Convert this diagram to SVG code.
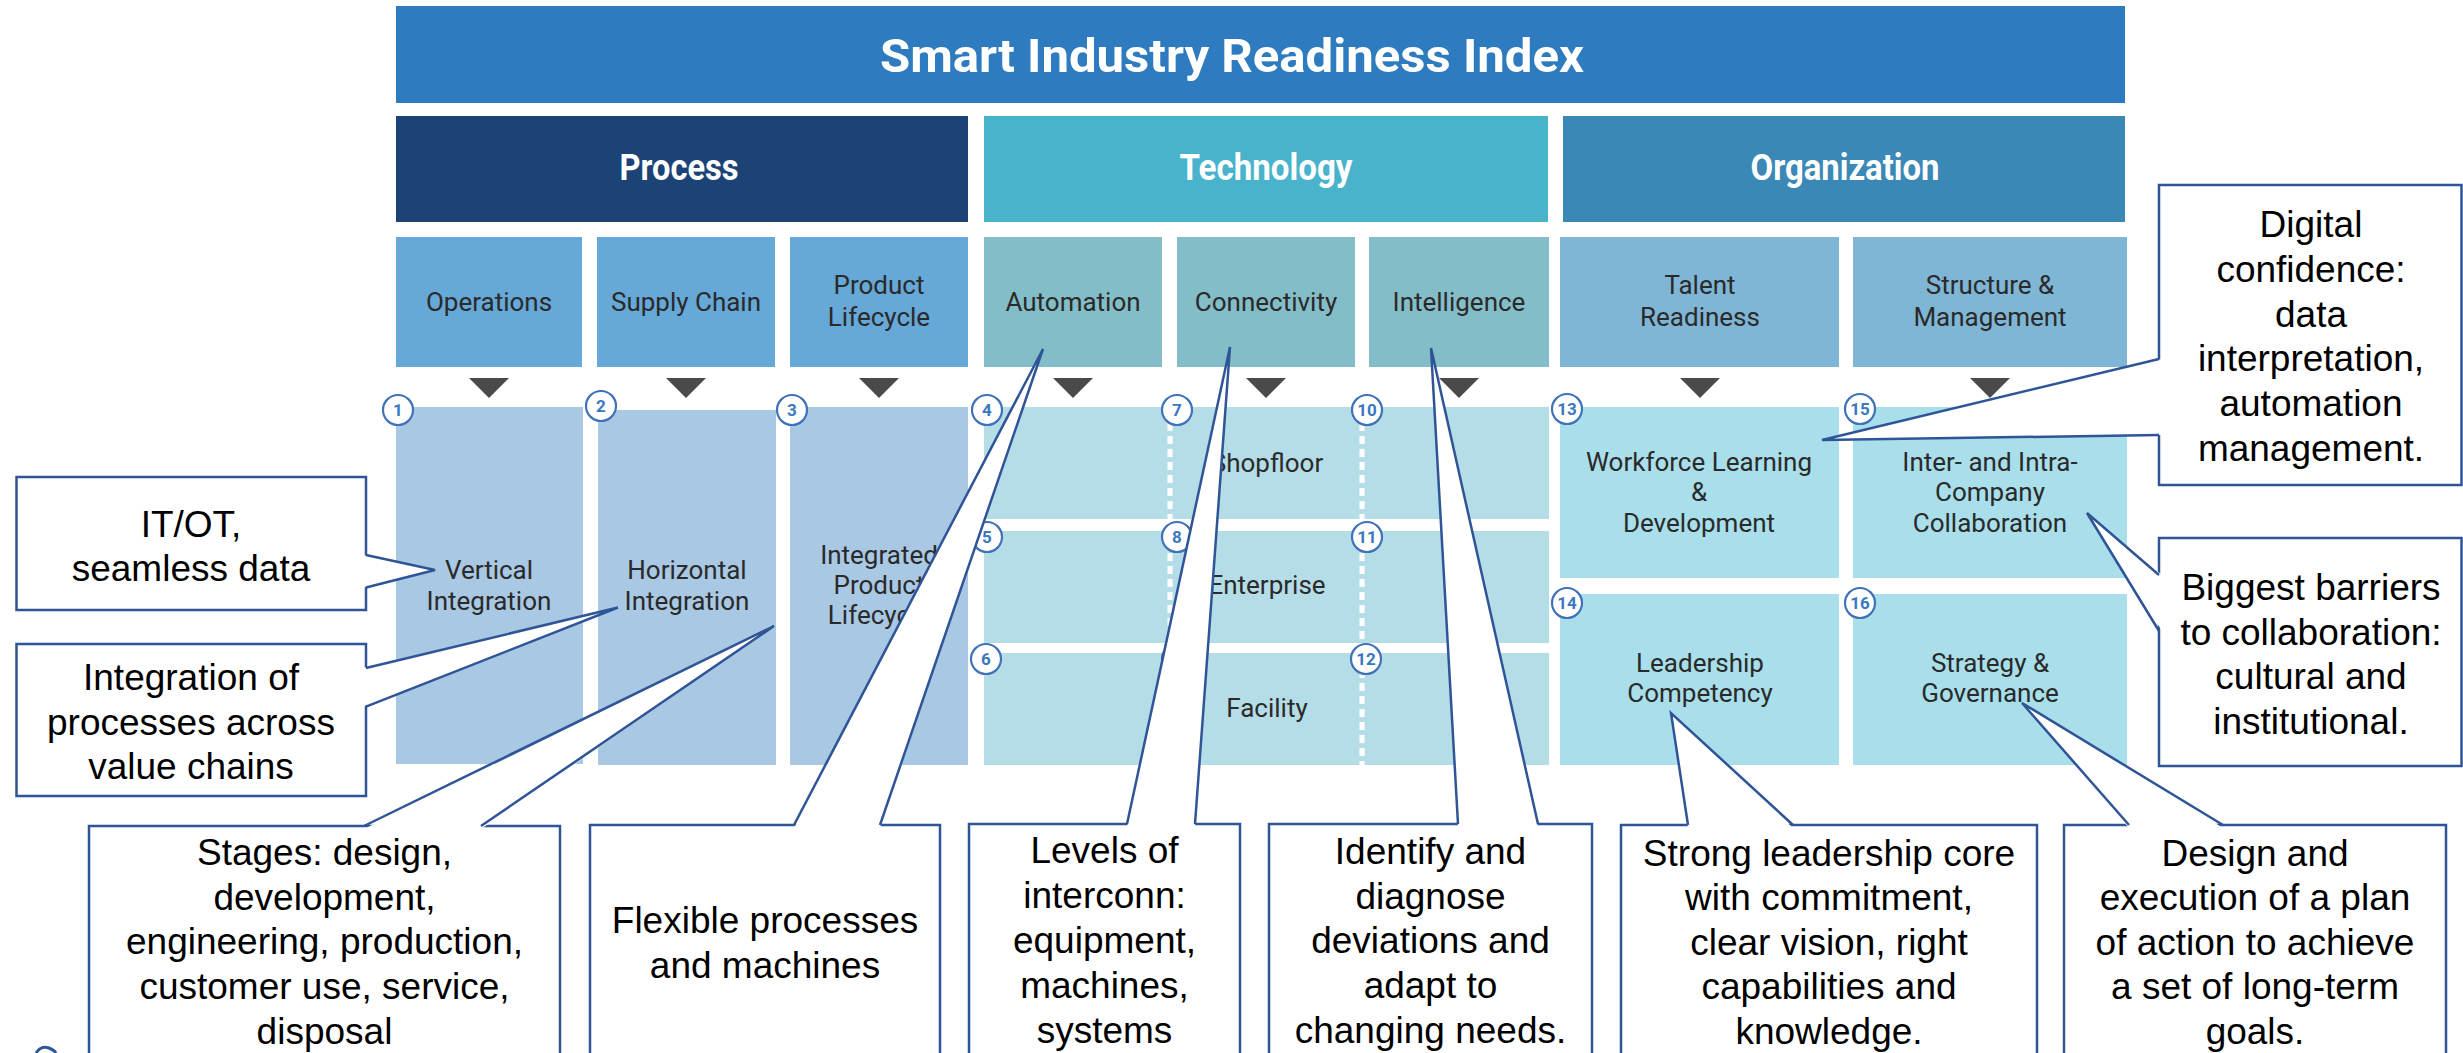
<svg xmlns="http://www.w3.org/2000/svg" width="2463" height="1053" viewBox="0 0 2463 1053">
<style>
  .bg{fill:#ffffff}
  .title{fill:#2E7BC0}
  .ttl{font-family:Roboto,"Liberation Sans",sans-serif;font-weight:bold;fill:#ffffff;text-anchor:middle}
  .lbl{font-family:Roboto,"Liberation Sans",sans-serif;font-size:26px;fill:#2a2a2a;text-anchor:middle}
  .p1{fill:#66A8D7}
  .t1{fill:#83BEC8}
  .o1{fill:#7FB6D6}
  .p2{fill:#A8C8E4}
  .t2{fill:#B5DDE7}
  .o2{fill:#A8DFEB}
  .tri{fill:#4A4A4A}
  .num circle{fill:#ffffff;stroke:#3F72B8;stroke-width:2.2}
  .num text{font-family:Roboto,"Liberation Sans",sans-serif;font-size:17px;font-weight:bold;fill:#3A78C2;text-anchor:middle}
  .dots{stroke:#ffffff;stroke-width:5;stroke-dasharray:8 5;fill:none}
  .box{fill:#ffffff;stroke:#2F5597;stroke-width:2.5}
  .ct{font-family:"Liberation Sans",Arial,sans-serif;font-size:37px;fill:#000000;text-anchor:middle}
  .wf{fill:#ffffff;stroke:none}
  .wl{fill:none;stroke:#2F5597;stroke-width:2.5;stroke-linejoin:miter}
</style>
<rect class="bg" x="0" y="0" width="2463" height="1053"/>

<g id="title">
  <rect class="title" x="396" y="6" width="1729" height="97"/>
  <text class="ttl" x="1232" y="72" font-size="47" textLength="704" lengthAdjust="spacingAndGlyphs">Smart Industry Readiness Index</text>
</g>

<g id="cat-process">
  <rect x="396" y="116" width="572" height="106" fill="#1B4375"/>
  <text class="ttl" x="679" y="180" font-size="37" textLength="119" lengthAdjust="spacingAndGlyphs">Process</text>
</g>
<g id="cat-technology">
  <rect x="984" y="116" width="564" height="106" fill="#49B3CB"/>
  <text class="ttl" x="1266" y="180" font-size="37" textLength="173" lengthAdjust="spacingAndGlyphs">Technology</text>
</g>
<g id="cat-organization">
  <rect x="1563" y="116" width="562" height="106" fill="#3B88B7"/>
  <text class="ttl" x="1845" y="180" font-size="37" textLength="189" lengthAdjust="spacingAndGlyphs">Organization</text>
</g>

<!-- dimension boxes -->
<g id="dim-operations">
  <rect class="p1" x="396" y="237" width="186" height="130"/>
  <text class="lbl" x="489" y="311">Operations</text>
  <polygon class="tri" points="469,378 509,378 489,398"/>
</g>
<g id="dim-supply-chain">
  <rect class="p1" x="597" y="237" width="178" height="130"/>
  <text class="lbl" x="686" y="311">Supply Chain</text>
  <polygon class="tri" points="666,378 706,378 686,398"/>
</g>
<g id="dim-product-lifecycle">
  <rect class="p1" x="790" y="237" width="178" height="130"/>
  <text class="lbl" x="879" y="294">Product</text>
  <text class="lbl" x="879" y="326">Lifecycle</text>
  <polygon class="tri" points="859,378 899,378 879,398"/>
</g>
<g id="dim-automation">
  <rect class="t1" x="984" y="237" width="178" height="130"/>
  <text class="lbl" x="1073" y="311">Automation</text>
  <polygon class="tri" points="1053,378 1093,378 1073,398"/>
</g>
<g id="dim-connectivity">
  <rect class="t1" x="1177" y="237" width="178" height="130"/>
  <text class="lbl" x="1266" y="311">Connectivity</text>
  <polygon class="tri" points="1246,378 1286,378 1266,398"/>
</g>
<g id="dim-intelligence">
  <rect class="t1" x="1369" y="237" width="180" height="130"/>
  <text class="lbl" x="1459" y="311">Intelligence</text>
  <polygon class="tri" points="1439,378 1479,378 1459,398"/>
</g>
<g id="dim-talent-readiness">
  <rect class="o1" x="1560" y="237" width="279" height="130"/>
  <text class="lbl" x="1700" y="294">Talent</text>
  <text class="lbl" x="1700" y="326">Readiness</text>
  <polygon class="tri" points="1680,378 1720,378 1700,398"/>
</g>
<g id="dim-structure-management">
  <rect class="o1" x="1853" y="237" width="274" height="130"/>
  <text class="lbl" x="1990" y="294">Structure &amp;</text>
  <text class="lbl" x="1990" y="326">Management</text>
  <polygon class="tri" points="1970,378 2010,378 1990,398"/>
</g>

<!-- lower blocks -->
<g id="blk-vertical-integration">
  <rect class="p2" x="396" y="407" width="187" height="357"/>
  <text class="lbl" x="489" y="579">Vertical</text>
  <text class="lbl" x="489" y="610">Integration</text>
</g>
<g id="blk-horizontal-integration">
  <rect class="p2" x="598" y="410" width="178" height="355"/>
  <text class="lbl" x="687" y="579">Horizontal</text>
  <text class="lbl" x="687" y="610">Integration</text>
</g>
<g id="blk-integrated-product-lifecycle">
  <rect class="p2" x="790" y="407" width="178" height="358"/>
  <text class="lbl" x="879" y="564">Integrated</text>
  <text class="lbl" x="879" y="594">Product</text>
  <text class="lbl" x="879" y="624">Lifecycle</text>
</g>
<g id="blk-shopfloor">
  <rect class="t2" x="984" y="407" width="565" height="112"/>
  <text class="lbl" x="1267" y="472">Shopfloor</text>
</g>
<g id="blk-enterprise">
  <rect class="t2" x="984" y="531" width="565" height="112"/>
  <text class="lbl" x="1267" y="594">Enterprise</text>
</g>
<g id="blk-facility">
  <rect class="t2" x="984" y="653" width="565" height="112"/>
  <text class="lbl" x="1267" y="717">Facility</text>
</g>
<g id="tech-dividers">
  <line class="dots" x1="1170" y1="423" x2="1170" y2="765"/>
  <line class="dots" x1="1362" y1="423" x2="1362" y2="765"/>
</g>
<g id="blk-workforce">
  <rect class="o2" x="1560" y="407" width="279" height="171"/>
  <text class="lbl" x="1699" y="471">Workforce Learning</text>
  <text class="lbl" x="1699" y="501">&amp;</text>
  <text class="lbl" x="1699" y="532">Development</text>
</g>
<g id="blk-collaboration">
  <rect class="o2" x="1853" y="407" width="274" height="171"/>
  <text class="lbl" x="1990" y="471">Inter- and Intra-</text>
  <text class="lbl" x="1990" y="501">Company</text>
  <text class="lbl" x="1990" y="532">Collaboration</text>
</g>
<g id="blk-leadership">
  <rect class="o2" x="1560" y="594" width="279" height="171"/>
  <text class="lbl" x="1700" y="672">Leadership</text>
  <text class="lbl" x="1700" y="702">Competency</text>
</g>
<g id="blk-strategy">
  <rect class="o2" x="1853" y="594" width="274" height="171"/>
  <text class="lbl" x="1990" y="672">Strategy &amp;</text>
  <text class="lbl" x="1990" y="702">Governance</text>
</g>

<g id="numbers" class="num">
  <g id="n1"><circle cx="398" cy="410" r="15"/><text x="398" y="416">1</text></g>
  <g id="n2"><circle cx="601" cy="406" r="15"/><text x="601" y="412">2</text></g>
  <g id="n3"><circle cx="792" cy="410" r="15"/><text x="792" y="416">3</text></g>
  <g id="n4"><circle cx="987" cy="410" r="15"/><text x="987" y="416">4</text></g>
  <g id="n5"><circle cx="987" cy="537" r="15"/><text x="987" y="543">5</text></g>
  <g id="n6"><circle cx="986" cy="659" r="15"/><text x="986" y="665">6</text></g>
  <g id="n7"><circle cx="1177" cy="410" r="15"/><text x="1177" y="416">7</text></g>
  <g id="n8"><circle cx="1177" cy="537" r="15"/><text x="1177" y="543">8</text></g>
  <g id="n9"><circle cx="1177" cy="659" r="15"/><text x="1177" y="665">9</text></g>
  <g id="n10"><circle cx="1367" cy="410" r="15"/><text x="1367" y="416">10</text></g>
  <g id="n11"><circle cx="1367" cy="537" r="15"/><text x="1367" y="543">11</text></g>
  <g id="n12"><circle cx="1366" cy="659" r="15"/><text x="1366" y="665">12</text></g>
  <g id="n13"><circle cx="1567" cy="409" r="15"/><text x="1567" y="415">13</text></g>
  <g id="n14"><circle cx="1567" cy="603" r="15"/><text x="1567" y="609">14</text></g>
  <g id="n15"><circle cx="1860" cy="409" r="15"/><text x="1860" y="415">15</text></g>
  <g id="n16"><circle cx="1860" cy="603" r="15"/><text x="1860" y="609">16</text></g>
</g>

<!-- callout boxes -->
<g id="note-itot">
  <rect class="box" x="16.5" y="477" width="349.5" height="133"/>
  <text class="ct" x="191" y="537">IT/OT,</text>
  <text class="ct" x="191" y="581">seamless data</text>
</g>
<g id="note-integration">
  <rect class="box" x="16.5" y="644" width="349.5" height="152"/>
  <text class="ct" x="191" y="690">Integration of</text>
  <text class="ct" x="191" y="734.5">processes across</text>
  <text class="ct" x="191" y="779">value chains</text>
</g>
<g id="note-stages">
  <rect class="box" x="89" y="826" width="471" height="240"/>
  <text class="ct" x="324.5" y="865">Stages: design,</text>
  <text class="ct" x="324.5" y="910">development,</text>
  <text class="ct" x="324.5" y="954">engineering, production,</text>
  <text class="ct" x="324.5" y="999">customer use, service,</text>
  <text class="ct" x="324.5" y="1044">disposal</text>
</g>
<g id="note-flexible">
  <rect class="box" x="590" y="825" width="350" height="241"/>
  <text class="ct" x="765" y="933">Flexible processes</text>
  <text class="ct" x="765" y="978">and machines</text>
</g>
<g id="note-levels">
  <rect class="box" x="969" y="824" width="271" height="242"/>
  <text class="ct" x="1104.5" y="863">Levels of</text>
  <text class="ct" x="1104.5" y="908">interconn:</text>
  <text class="ct" x="1104.5" y="953">equipment,</text>
  <text class="ct" x="1104.5" y="998">machines,</text>
  <text class="ct" x="1104.5" y="1043">systems</text>
</g>
<g id="note-identify">
  <rect class="box" x="1269" y="824" width="323" height="242"/>
  <text class="ct" x="1430.5" y="864">Identify and</text>
  <text class="ct" x="1430.5" y="909">diagnose</text>
  <text class="ct" x="1430.5" y="953">deviations and</text>
  <text class="ct" x="1430.5" y="998">adapt to</text>
  <text class="ct" x="1430.5" y="1043">changing needs.</text>
</g>
<g id="note-leadership">
  <rect class="box" x="1621" y="825" width="416" height="241"/>
  <text class="ct" x="1829" y="866">Strong leadership core</text>
  <text class="ct" x="1829" y="910">with commitment,</text>
  <text class="ct" x="1829" y="955">clear vision, right</text>
  <text class="ct" x="1829" y="999">capabilities and</text>
  <text class="ct" x="1829" y="1044">knowledge.</text>
</g>
<g id="note-strategy">
  <rect class="box" x="2064" y="825" width="382" height="241"/>
  <text class="ct" x="2255" y="866">Design and</text>
  <text class="ct" x="2255" y="910">execution of a plan</text>
  <text class="ct" x="2255" y="955">of action to achieve</text>
  <text class="ct" x="2255" y="999">a set of long-term</text>
  <text class="ct" x="2255" y="1044">goals.</text>
</g>
<g id="note-digital">
  <rect class="box" x="2159" y="185" width="302.5" height="300"/>
  <text class="ct" x="2311" y="237">Digital</text>
  <text class="ct" x="2311" y="282">confidence:</text>
  <text class="ct" x="2311" y="327">data</text>
  <text class="ct" x="2311" y="371">interpretation,</text>
  <text class="ct" x="2311" y="416">automation</text>
  <text class="ct" x="2311" y="461">management.</text>
</g>
<g id="note-barriers">
  <rect class="box" x="2159" y="538" width="302.5" height="228"/>
  <text class="ct" x="2311" y="600">Biggest barriers</text>
  <text class="ct" x="2311" y="644.5">to collaboration:</text>
  <text class="ct" x="2311" y="689">cultural and</text>
  <text class="ct" x="2311" y="733.5">institutional.</text>
</g>

<!-- callout pointers -->
<g id="connectors">
  <g id="ptr-itot"><polygon class="wf" points="363,555 435,570 363,587.5"/><path class="wl" d="M366,555 L435,570 L366,587.5"/></g>
  <g id="ptr-integration"><polygon class="wf" points="363,668 618,607.5 363,706.6"/><path class="wl" d="M366,668 L618,607.5 L366,706.6"/></g>
  <g id="ptr-stages"><polygon class="wf" points="364,829 774,626 481,829"/><path class="wl" d="M364,826 L774,626 L481,826"/></g>
  <g id="ptr-flexible"><polygon class="wf" points="794,828 1043,349 880,828"/><path class="wl" d="M794,825 L1043,349 L880,825"/></g>
  <g id="ptr-levels"><polygon class="wf" points="1127,827 1230,347 1195,827"/><path class="wl" d="M1127,824 L1230,347 L1195,824"/></g>
  <g id="ptr-identify"><polygon class="wf" points="1458,827 1431,348 1538,827"/><path class="wl" d="M1458,824 L1431,348 L1538,824"/></g>
  <g id="ptr-leadership"><polygon class="wf" points="1688,828 1671,713 1793,828"/><path class="wl" d="M1688,825 L1671,713 L1793,825"/></g>
  <g id="ptr-strategy"><polygon class="wf" points="2129,828 2022,703 2223,828"/><path class="wl" d="M2129,825 L2022,703 L2223,825"/></g>
  <g id="ptr-digital"><polygon class="wf" points="2162,359 1822,440 2162,435"/><path class="wl" d="M2159,359 L1822,440 L2159,435"/></g>
  <g id="ptr-barriers"><polygon class="wf" points="2162,575 2087,513 2162,631"/><path class="wl" d="M2159,575 L2087,513 L2159,631"/></g>
</g>

<path d="M36,1053 Q41,1045 49,1048 Q54,1050 56,1053" fill="none" stroke="#2F5597" stroke-width="3"/>
</svg>
